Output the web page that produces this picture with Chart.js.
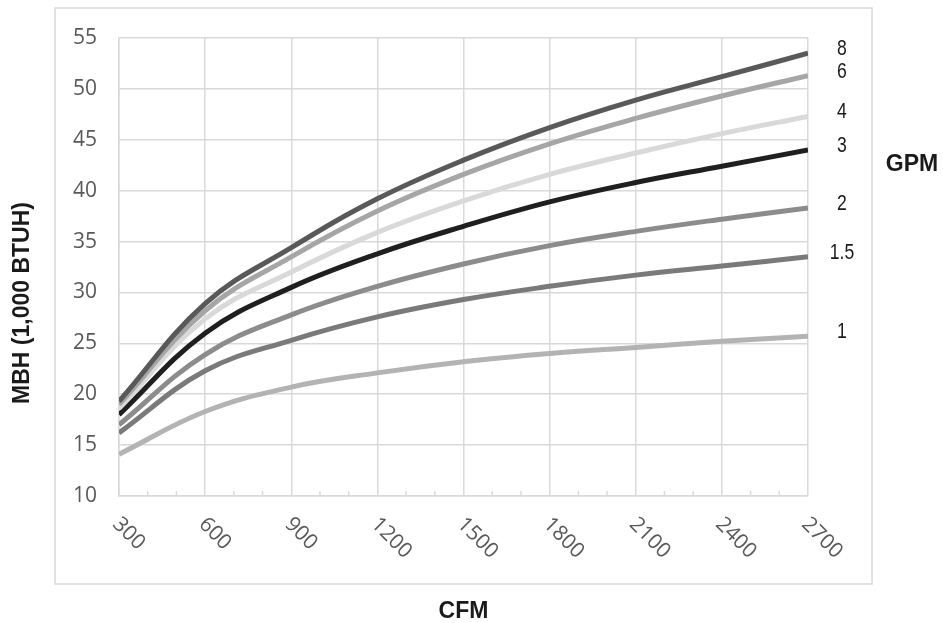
<!DOCTYPE html>
<html>
<head>
<meta charset="utf-8">
<script src="https://cdn.jsdelivr.net/npm/chart.js@4.4.1/dist/chart.umd.min.js"></script>
<style>
    body { margin: 0; background: #ffffff; }
    #wrap { width: 943px; height: 623px; }
</style>
</head>
<body>
<div id="wrap"><canvas id="coilChart" width="943" height="623"></canvas></div>
<script>
// Dữ liệu
var cfm = [300, 600, 900, 1200, 1500, 1800, 2100, 2400, 2700];
var gpmLabels = ['8', '6', '4', '3', '2', '1.5', '1'];
var gpm8 = [19.3, 28.9, 34.4, 39.2, 43.0, 46.2, 48.9, 51.2, 53.5];
var gpm6 = [19.0, 28.2, 33.5, 38.0, 41.6, 44.6, 47.1, 49.3, 51.3];
var gpm4 = [18.6, 27.4, 32.0, 35.9, 39.0, 41.6, 43.7, 45.6, 47.3];
var gpm3 = [18.0, 26.0, 30.5, 33.8, 36.5, 38.9, 40.8, 42.4, 44.0];
var gpm2 = [17.0, 23.9, 27.8, 30.6, 32.8, 34.6, 36.0, 37.2, 38.3];
var gpm15 = [16.2, 22.3, 25.3, 27.6, 29.3, 30.6, 31.7, 32.6, 33.5];
var gpm1 = [14.1, 18.3, 20.7, 22.1, 23.2, 24.0, 24.6, 25.2, 25.7];
var seriesValues = [gpm8, gpm6, gpm4, gpm3, gpm2, gpm15, gpm1];
var lineColors = ['#595959', '#a6a6a6', '#d9d9d9', '#1f1f1f', '#8c8c8c', '#7a7a7a', '#b3b3b3'];

var gridColor = '#d9d9d9';
var textColor = '#595959';
var minorStep = 100;

// Ghép dữ liệu thành các điểm (x, y)
function toPoints(values) {
    return values.map(function (v, i) { return { x: cfm[i], y: v }; });
}

var datasets = seriesValues.map(function (values, i) {
    return {
        label: gpmLabels[i],
        data: toPoints(values),
        borderColor: lineColors[i],
        borderWidth: 5,
        pointRadius: 0,
        fill: false,
        tension: 0.4
    };
});

// Plugin vẽ khung, nhãn trục, vạch phụ và nhãn GPM
var decorPlugin = {
    id: 'decor',
    afterDraw: function (chart) {
        var ctx = chart.ctx;
        var area = chart.chartArea;
        var xs = chart.scales.x;
        ctx.save();

        // Khung ngoài
        ctx.strokeStyle = gridColor;
        ctx.lineWidth = 1.5;
        ctx.strokeRect(area.left - 64, area.top - 30, area.width + 128, area.height + 118);

        // Vạch phụ bên trong trục x
        for (var v = xs.min; v <= xs.max; v += minorStep) {
            if (v % 300 === 0) continue;
            var px = xs.getPixelForValue(v);
            ctx.beginPath();
            ctx.moveTo(px, area.bottom);
            ctx.lineTo(px, area.bottom - 5);
            ctx.stroke();
        }

        // Nhãn trục x xoay 45 độ
        ctx.fillStyle = textColor;
        ctx.font = '21px "Open Sans", "Noto Sans", sans-serif';
        ctx.textAlign = 'left';
        ctx.textBaseline = 'middle';
        xs.ticks.forEach(function (t) {
            var px = xs.getPixelForValue(t.value);
            ctx.save();
            ctx.translate(px - 3, area.bottom + 25);
            ctx.rotate(Math.PI / 4);
            ctx.fillText(String(t.value), 0, 0);
            ctx.restore();
        });

        // Tiêu đề các trục
        ctx.fillStyle = '#1a1a1a';
        ctx.font = 'bold 23px "Liberation Sans", Arial, sans-serif';
        ctx.textAlign = 'center';
        ctx.fillText('CFM', (area.left + area.right) / 2, area.bottom + 116);
        ctx.fillText('GPM', area.right + 104, area.top + 127);
        ctx.save();
        ctx.translate(23, area.top + 265);
        ctx.rotate(-Math.PI / 2);
        ctx.fillText('MBH (1,000 BTUH)', 0, 0);
        ctx.restore();

        // Nhãn lưu lượng ở cuối mỗi đường (chữ hẹp)
        ctx.font = '22px "Liberation Sans", Arial, sans-serif';
        chart.data.datasets.forEach(function (ds, i) {
            var meta = chart.getDatasetMeta(i);
            var last = meta.data[meta.data.length - 1];
            ctx.save();
            ctx.translate(area.right + 34, last.y - 4);
            ctx.scale(0.8, 1);
            ctx.fillText(ds.label, 0, 0);
            ctx.restore();
        });

        ctx.restore();
    }
};

var config = {
    type: 'line',
    data: { datasets: datasets },
    options: {
        responsive: false,
        animation: false,
        layout: { padding: { top: 38, right: 135, left: 0, bottom: 0 } },
        plugins: {
            legend: { display: false },
            tooltip: { enabled: false }
        },
        scales: {
            x: {
                type: 'linear',
                min: 300,
                max: 2700,
                ticks: { stepSize: 300, display: false },
                grid: { color: gridColor, lineWidth: 1.5, drawTicks: false },
                border: { color: gridColor, width: 1.5 },
                afterFit: function (s) { s.height = 127; }
            },
            y: {
                min: 10,
                max: 55,
                ticks: {
                    stepSize: 5,
                    padding: 22,
                    color: textColor,
                    font: { family: '"Open Sans", "Noto Sans", sans-serif', size: 21 }
                },
                grid: { color: gridColor, lineWidth: 1.5, drawTicks: false },
                border: { color: gridColor, width: 1.5 },
                afterFit: function (s) { s.width = 119; }
            }
        }
    },
    plugins: [decorPlugin]
};

var coilChart = new Chart(document.getElementById('coilChart').getContext('2d'), config);
</script>
</body>
</html>
